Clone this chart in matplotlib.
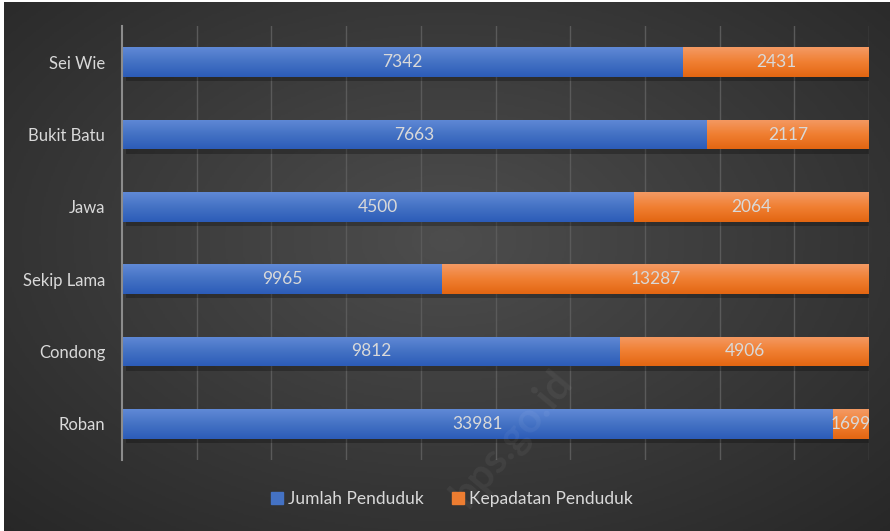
import numpy as np
import matplotlib
matplotlib.use("Agg")
import matplotlib.pyplot as plt
from matplotlib.patches import Patch
from matplotlib.colors import LinearSegmentedColormap

plt.rcParams['font.family'] = ['Lato', 'DejaVu Sans']

kecamatan = ['Sei Wie', 'Bukit Batu', 'Jawa', 'Sekip Lama', 'Condong', 'Roban']
jumlah = [7342, 7663, 4500, 9965, 9812, 33981]
kepadatan = [2431, 2117, 2064, 13287, 4906, 1699]

txt = '#d9d9d9'
biru = '#4472c4'
oranye = '#ed7d31'

fig = plt.figure(figsize=(8.9, 5.31), dpi=100, facecolor='white')

# latar gradasi radial
bg = fig.add_axes([4/890, 0, 886/890, 529/531])
bg.set_axis_off()
yy, xx = np.mgrid[0:1:300j, 0:1:500j]
r = np.sqrt(((xx - 0.5) / 0.75) ** 2 + ((yy - 0.45) / 0.8) ** 2)
bg.imshow(np.clip(r, 0, 1), cmap=LinearSegmentedColormap.from_list(
    'g', ['#4d4d4d', '#262626']), aspect='auto', extent=[0, 1, 0, 1], vmin=0, vmax=1)

ax = fig.add_axes([122/890, 71/531, 747/890, 434/531])
ax.patch.set_alpha(0)

tot = np.array(jumlah) + np.array(kepadatan)
p1 = np.array(jumlah) / tot
p2 = np.array(kepadatan) / tot
y = np.arange(len(kecamatan))
h = 0.41

# bayangan
ax.barh(y + 0.06, p1 + p2, left=0.005, height=h, color='black', alpha=0.25, zorder=2)
b1 = ax.barh(y, p1, height=h, color=biru, zorder=3)
b2 = ax.barh(y, p2, left=p1, height=h, color=oranye, zorder=3)

cm_b = LinearSegmentedColormap.from_list('b', ['#6089d6', '#4472c4', '#2c5cb8'])
cm_o = LinearSegmentedColormap.from_list('o', ['#f49a64', '#f07f32', '#e36612'])
grad = np.linspace(0, 1, 64).reshape(-1, 1)
for bars, cm in [(b1, cm_b), (b2, cm_o)]:
    for p in bars:
        x0, y0 = p.get_x(), p.get_y()
        im = ax.imshow(grad, cmap=cm, aspect='auto', zorder=3.5,
                       extent=[x0, x0 + p.get_width(), y0 + h, y0])
        im.set_clip_path(p)

for i in range(len(kecamatan)):
    ax.text(p1[i] / 2, y[i], str(jumlah[i]), ha='center', va='center', color=txt, fontsize=12.5, zorder=4)
    ax.text(p1[i] + p2[i] / 2, y[i], str(kepadatan[i]), ha='center', va='center', color=txt, fontsize=12.5, zorder=4)

ax.set_xlim(0, 1)
ax.set_ylim(len(kecamatan) - 0.5, -0.5)
ax.set_xticks(np.arange(0.1, 1.01, 0.1))
ax.set_xticklabels([])
ax.tick_params(axis='x', length=0)
ax.grid(axis='x', color='#5a5a5a', linewidth=1, zorder=1)
ax.set_yticks(y)
ax.set_yticklabels(kecamatan, color=txt, fontsize=12)
ax.tick_params(axis='y', length=0, pad=12)
for s in ['top', 'right', 'bottom']:
    ax.spines[s].set_visible(False)
ax.spines['left'].set_color('#8c8c8c')
ax.spines['left'].set_linewidth(1.5)
ax.spines['left'].set_zorder(5)

fig.legend(handles=[Patch(color=biru, label='Jumlah Penduduk'),
                    Patch(color=oranye, label='Kepadatan Penduduk')],
           loc='center', bbox_to_anchor=(452/890, 1 - 499/531), ncol=2, frameon=False,
           fontsize=12.5, labelcolor=txt, handlelength=0.7, handleheight=0.7,
           handletextpad=0.3, columnspacing=1.6)

fig.text(512/890, 1 - 438/531, 'bps.go.id', rotation=50, fontsize=30, fontweight='bold',
         color='#ffffff', alpha=0.05, ha='center', va='center')

fig.savefig('out.png', dpi=100)
